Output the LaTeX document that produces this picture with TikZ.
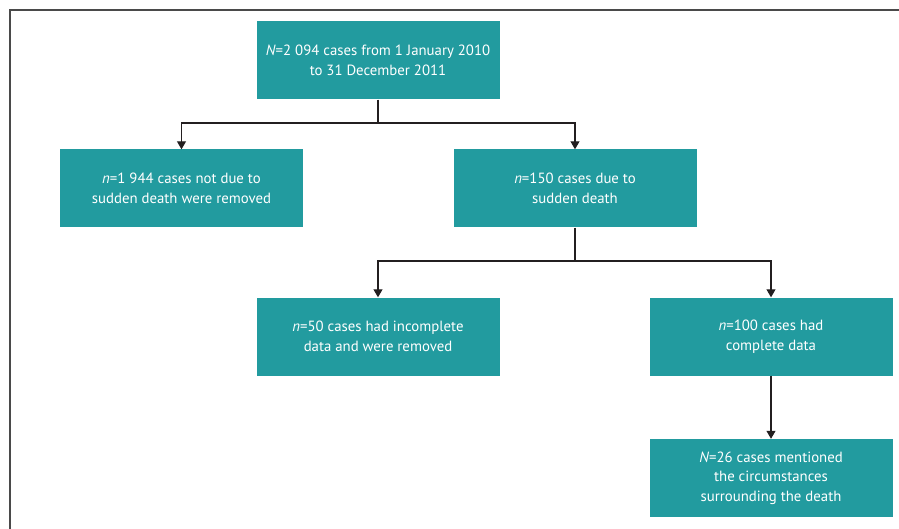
\documentclass[tikz,border=0pt]{standalone}
\usepackage{fontspec}
\setmainfont{PT Sans}
\usetikzlibrary{arrows.meta}
\definecolor{teal1}{HTML}{229B9F}
\definecolor{linec}{HTML}{231F20}
\definecolor{framec}{HTML}{4A4A4A}
\begin{document}
\begin{tikzpicture}[x=1pt,y=-1pt,
  box/.style={fill=teal1,text=white,minimum width=243pt,minimum height=78pt,
    align=center,inner sep=0pt,font=\fontsize{14.8}{19.5}\selectfont},
  conn/.style={draw=linec,line width=1.1pt},
  arr/.style={conn,-{Triangle[width=9pt,length=8pt]}}]
\useasboundingbox (0,0) rectangle (899,529);
\fill[white] (0,0) rectangle (899,529);
\draw[framec,line width=2pt] (10,529) -- (10,10) -- (899,10);
\node[box] (top) at (378,60.5) {\textit{N}=2 094 cases from 1 January 2010\\to 31 December 2011};
\node[box] (notsd) at (181.5,188.5) {\textit{n}=1 944 cases not due to\\sudden death were removed};
\node[box] (sd) at (575,188.5) {\textit{n}=150 cases due to\\sudden death};
\node[box] (inc) at (378,336.5) {\textit{n}=50 cases had incomplete\\data and were removed};
\node[box] (comp) at (771,336.5) {\textit{n}=100 cases had\\complete data};
\node[box] (circ) at (771,478) {\textit{N}=26 cases mentioned\\the circumstances\\surrounding the death};
\coordinate (j1) at (378,123);
\coordinate (j2) at (575,261);
\draw[conn] (top.south) -- (j1);
\draw[arr] (j1) -| (notsd.north);
\draw[arr] (j1) -| (sd.north);
\draw[conn] (sd.south) -- (j2);
\draw[arr] (j2) -| (inc.north);
\draw[arr] (j2) -| (comp.north);
\draw[arr] (comp.south) -- (circ.north);
\end{tikzpicture}
\end{document}
